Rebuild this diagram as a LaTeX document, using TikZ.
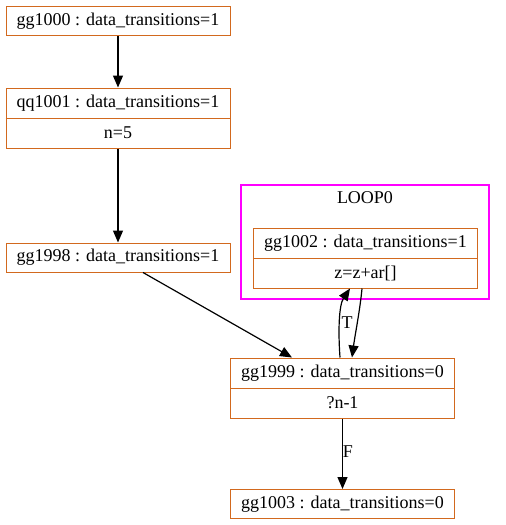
\documentclass[tikz,border=0pt]{standalone}
\usepackage{fontspec}
\setmainfont{Liberation Serif}
\usetikzlibrary{arrows.meta}
\definecolor{nodeorange}{RGB}{210,105,30}
\definecolor{loopmag}{RGB}{255,0,255}
\tikzset{
  box/.style={draw=nodeorange, line width=1pt, minimum width=224pt, inner sep=0pt, rectangle},
  onebox/.style={box, minimum height=29pt},
  twobox/.style={box, minimum height=60pt},
  txt/.style={inner sep=0pt, font=\fontsize{18}{21}\selectfont},
  edge/.style={line width=1.2pt, -{Triangle[length=12pt,width=10pt]}},
  lbl/.style={inner sep=0pt, font=\fontsize{18}{21}\selectfont},
}
\begin{document}
\begin{tikzpicture}[x=1pt,y=-1pt]
\useasboundingbox (0,0) rectangle (506,525);
% cluster
\draw[color=loopmag, line width=1.2pt] (241,185) rectangle (489,299);
\coordinate (loop) at (365,242);
\node[txt] (looplbl) at (365,198) {LOOP0};
% nodes
\node[onebox] (g1000) at (118,21) {};
\node[txt] (g1000t) at (118,21) {gg1000 : data\_transitions=1};
\node[twobox] (q1001) at (118,118) {};
\node[txt] (q1001t) at (118,103) {qq1001 : data\_transitions=1};
\node[txt] (q1001b) at (118,133) {n=5};
\draw[draw=nodeorange, line width=1pt] (q1001.west) -- (q1001.east);
\node[onebox] (g1998) at (118,257.5) {};
\node[txt] (g1998t) at (118,257.5) {gg1998 : data\_transitions=1};
\node[twobox] (g1002) at (365.5,258) {};
\node[txt] (g1002t) at (365.5,243) {gg1002 : data\_transitions=1};
\node[txt] (g1002b) at (365.5,273) {z=z+ar[]};
\draw[draw=nodeorange, line width=1pt] (g1002.west) -- (g1002.east);
\node[twobox] (g1999) at (342.5,388) {};
\node[txt] (g1999t) at (342.5,373) {gg1999 : data\_transitions=0};
\node[txt] (g1999b) at (342.5,403) {?n-1};
\draw[draw=nodeorange, line width=1pt] (g1999.west) -- (g1999.east);
\node[onebox] (g1003) at (342.5,504) {};
\node[txt] (g1003t) at (342.5,504) {gg1003 : data\_transitions=0};
% edges
\draw[edge] (g1000.south) -- (q1001.north);
\draw[edge] (q1001.south) -- (g1998.north);
\draw[edge] (g1998.south -| 143,0) -- (g1999.north -| 292,0);
\coordinate (tstart) at (g1999.north -| 340,0);
\coordinate (tend) at (g1002.south -| 350,0);
\draw[edge] (tstart) .. controls (338,330) and (339,305) .. (tend);
\node[lbl] (tl) at (347,323) {T};
\coordinate (bstart) at (g1002.south -| 362,0);
\coordinate (bend) at (g1999.north -| 352,0);
\draw[edge] (bstart) .. controls (360,310) and (355,335) .. (bend);
\draw[edge] (g1999.south) -- (g1003.north);
\node[lbl] (fl) at (348,452) {F};
\end{tikzpicture}
\end{document}
